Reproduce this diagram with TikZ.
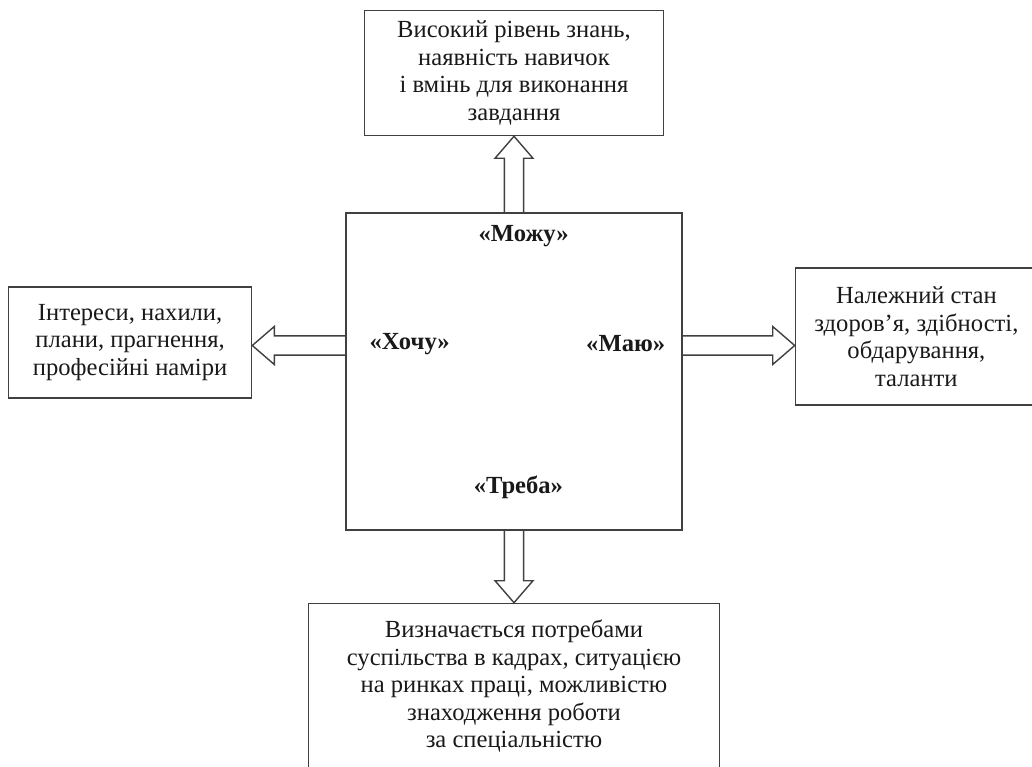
\documentclass[tikz,border=0pt]{standalone}
\usepackage{fontspec}
\setmainfont{Liberation Serif}
\usetikzlibrary{positioning}
\usetikzlibrary{calc}

\newcommand{\shafthalf}{0.24cm}
\newcommand{\headhalf}{0.475cm}
\newcommand{\headlen}{0.55cm}
\newcommand{\hollowarrow}[2]{%
  \coordinate (hb) at ($(#2)!\headlen!(#1)$);
  \draw [frame] ($(#1)!\shafthalf!90:(#2)$) -- ($(hb)!\shafthalf!90:(#2)$)
        -- ($(hb)!\headhalf!90:(#2)$) -- (#2)
        -- ($(hb)!\headhalf!-90:(#2)$) -- ($(hb)!\shafthalf!-90:(#2)$)
        -- ($(#1)!\shafthalf!-90:(#2)$);
}

\begin{document}
\begin{tikzpicture}[
        frame/.style={draw=black!75, line width=1pt, line join=miter},
        box/.style={frame, align=center, inner sep=0pt, text=black!90,
                    font={\fontsize{17.5}{19.6}\selectfont}},
        key/.style={text=black!90, font={\fontsize{17.5}{19.6}\selectfont\bfseries}},
    ]

        \useasboundingbox (0,0) rectangle (25.8,-19.175);

        \node (main) [frame,
                      minimum width=8.4cm,
                      minimum height=7.925cm,
                      ] at (12.85,-9.2875) {};

        \node (top) [box,
                     minimum width=7.475cm,
                     minimum height=3.125cm,
                     above=1.9cm of main,
                     ] {Високий рівень знань,\\ наявність навичок\\ і вмінь для виконання\\ завдання};
        \node (left) [box,
                      minimum width=6.075cm,
                      minimum height=2.775cm,
                      left=2.325cm of main.west, yshift=0.725cm,
                      ] {Інтереси, нахили,\\ плани, прагнення,\\ професійні наміри};
        \node (right) [box,
                       minimum width=6.05cm,
                       minimum height=3.425cm,
                       right=2.8cm of main.east, yshift=0.875cm,
                       ] {Належний стан\\ здоров’я, здібності,\\ обдарування,\\ таланти};
        \node (bottom) [box,
                        minimum width=10.275cm,
                        minimum height=4.15cm,
                        below=1.8cm of main,
                        ] {Визначається потребами\\ суспільства в кадрах, ситуацією\\ на ринках праці, можливістю\\ знаходження роботи\\ за спеціальністю};

        \node (mozhu) [key] at ([xshift=0.24cm, yshift=-0.6cm]main.north) {«Можу»};
        \node (treba) [key] at ([xshift=0.11cm, yshift=1.075cm]main.south) {«Треба»};
        \node (khochu) [key] at ([xshift=1.61cm, yshift=0.69cm]main.west) {«Хочу»};
        \node (mayu) [key] at ([xshift=-1.425cm, yshift=0.69cm]main.east) {«Маю»};

        \coordinate (outL) at ([yshift=0.65cm]main.west);
        \coordinate (outR) at ([yshift=0.65cm]main.east);
        \coordinate (tipL) at (left.east |- outL);
        \coordinate (tipR) at (right.west |- outR);

        \hollowarrow{main.north}{top.south}
        \hollowarrow{main.south}{bottom.north}
        \hollowarrow{outL}{tipL}
        \hollowarrow{outR}{tipR}

    \end{tikzpicture}
\end{document}
